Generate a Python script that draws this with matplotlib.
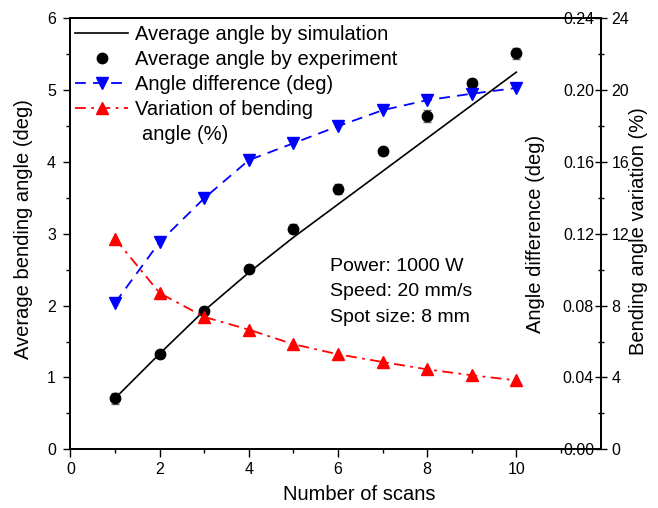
import numpy as np
import matplotlib
matplotlib.use("Agg")
import matplotlib.pyplot as plt
from matplotlib.ticker import MultipleLocator

plt.rcParams["font.family"] = ["Liberation Sans", "DejaVu Sans"]

# values
scans = [1, 2, 3, 4, 5, 6, 7, 8, 9, 10]
angle_exp = [0.71, 1.32, 1.93, 2.51, 3.07, 3.62, 4.15, 4.64, 5.10, 5.51]
angle_exp_err = [0.08, 0.05, 0.05, 0.05, 0.06, 0.07, 0.05, 0.08, 0.05, 0.08]
angle_sim = [0.71, 1.33, 1.93, 2.46, 2.95, 3.41, 3.87, 4.33, 4.79, 5.25]
angle_diff = [0.0815, 0.1154, 0.1398, 0.161, 0.1704, 0.1799, 0.1888, 0.1944, 0.198, 0.2012]
variation_pct = [11.73, 8.70, 7.37, 6.66, 5.85, 5.29, 4.86, 4.45, 4.12, 3.84]
diff_ticks = [0.00, 0.04, 0.08, 0.12, 0.16, 0.20, 0.24]

fig = plt.figure(figsize=(6.58, 5.08), dpi=100)
ax = fig.add_axes([0.1071, 0.1156, 0.8063, 0.8484])
ax2 = ax.twinx()
ax3 = ax.twinx()

ax.plot(scans, angle_sim, "-", color="black", lw=1.2, label="Average angle by simulation")
ax.errorbar(scans, angle_exp, yerr=angle_exp_err, fmt="none", ecolor="#666666",
            elinewidth=1, capsize=3)
ax.plot(scans, angle_exp, "o", color="black", ms=7.5, label="Average angle by experiment")
l2, = ax2.plot(scans, angle_diff, "--", color="#0000ff", lw=1.3, marker="v", ms=9,
               dashes=(6, 4), label="Angle difference (deg)")
l3, = ax3.plot(scans, variation_pct, "-.", color="#ff0000", lw=1.3, marker="^", ms=9,
               dashes=(6, 3, 1.5, 3), label="Variation of bending")

ax.set_xlim(0, 11.9)
ax.set_ylim(0, 6)
ax2.set_ylim(0, 0.24)
ax3.set_ylim(0, 24)

ax.xaxis.set_major_locator(MultipleLocator(2))
ax.xaxis.set_minor_locator(MultipleLocator(1))
ax.yaxis.set_major_locator(MultipleLocator(1))
ax.yaxis.set_minor_locator(MultipleLocator(0.5))
ax2.set_yticks(diff_ticks, [f"{v:.2f}" for v in diff_ticks], ha="right")
ax3.yaxis.set_major_locator(MultipleLocator(4))
ax3.yaxis.set_minor_locator(MultipleLocator(2))

ax.tick_params(axis="both", which="major", direction="out", length=6, width=1, labelsize=11.5, pad=3.5)
ax.tick_params(axis="both", which="minor", direction="out", length=3, width=1)
ax.tick_params(axis="y", which="major", length=5, pad=5.5)
ax2.tick_params(axis="y", which="both", length=0, labelsize=11.5, pad=-5)
ax3.tick_params(axis="y", which="major", direction="inout", length=8.5, width=1, labelsize=11.5, pad=3.4)
ax3.tick_params(axis="y", which="minor", direction="inout", length=5, width=1)

for a in (ax, ax2, ax3):
    for s in a.spines.values():
        s.set_linewidth(1.1)

ax.set_xlabel("Number of scans", fontsize=14.5)
ax.xaxis.set_label_coords(0.544, -0.105)
ax.xaxis.label.set_va("center")
ax.set_ylabel("Average bending angle (deg)", fontsize=14.5)
ax.yaxis.set_label_coords(-0.088, 0.51)
ax.yaxis.label.set_va("center")
ax2.set_ylabel("Angle difference (deg)", fontsize=14.5)
ax2.yaxis.set_label_coords(0.876, 0.5)
ax2.yaxis.label.set_va("center")
ax2.yaxis.label.set_ha("center")
ax3.set_ylabel("Bending angle variation (%)", fontsize=14.5)
ax3.yaxis.set_label_coords(1.07, 0.506)
ax3.yaxis.label.set_va("center")

h1, lab1 = ax.get_legend_handles_labels()
leg = ax.legend(h1 + [l2, l3], lab1 + [l2.get_label(), l3.get_label()],
                loc="upper left", bbox_to_anchor=(0.0085, 0.985), frameon=False,
                fontsize=14.5, borderpad=0, borderaxespad=0, handlelength=2.65,
                handletextpad=0.35, labelspacing=0.31)
ax.text(0.134, 0.73, "angle (%)", transform=ax.transAxes, fontsize=14.5, va="center")

ax.text(0.489, 0.365, "Power: 1000 W\nSpeed: 20 mm/s\nSpot size: 8 mm", transform=ax.transAxes,
        fontsize=14, va="center", ha="left", linespacing=1.65)

fig.savefig("out.png", dpi=100)
